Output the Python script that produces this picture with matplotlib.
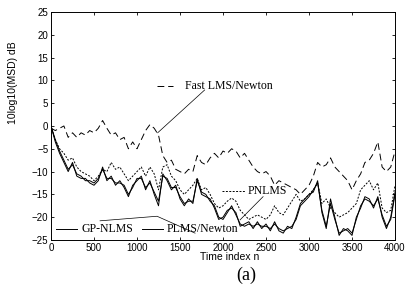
import numpy as np
import matplotlib
matplotlib.use('Agg')
import matplotlib.pyplot as plt

# time index (every 50 samples)
n = np.arange(0, 4001, 50)

# 10log10(MSD) in dB
fast_lms = [-0.5, -1, -0.5, 0, -2.5, -1.5, -2.5, -1.5, -2, -1,
            -1.5, -0.5, 1.2, -0.5, -2, -1.5, -3, -2.5, -5, -3.5,
            -5, -3, -1, 0.3, -0.5, -2, -6.5, -8, -7.5, -9.5,
            -10, -10.5, -9.5, -10, -6.5, -8, -8.5, -7, -6, -7,
            -5.5, -6, -5, -5.5, -7, -6, -7.5, -9, -10, -10.5,
            -10, -11, -13, -12, -12.5, -13, -13.5, -14, -15, -14,
            -13, -11, -8, -9, -8.5, -7, -9, -10, -11, -12,
            -14, -12, -10.5, -8, -7.5, -6, -3.5, -9, -10, -9,
            -5.5]
pnlms = [0, -3, -5, -6, -7.5, -7, -9, -10, -10.5, -11,
         -12, -11, -9.5, -10, -8, -9.5, -9, -10.5, -12, -11,
         -10, -9, -11, -9, -10.5, -14, -9, -8.5, -11, -12,
         -14, -15, -14, -13, -11.5, -14, -13.5, -15, -17, -18,
         -17.5, -16.5, -15.8, -16.5, -18.5, -19.5, -20.5, -20, -19.5, -20,
         -20.5, -19.5, -17.5, -19, -19.5, -18, -16.5, -15, -16.5, -16,
         -15, -14, -12.5, -17, -16, -18, -19, -20, -19.5, -19,
         -18, -17, -14, -13, -12, -14, -12.5, -18, -19, -18.5,
         -13]
gp_nlms = [0, -3.5, -6, -8, -10, -8, -11, -11.5, -11.5, -12.5,
           -13, -12, -9, -12, -11, -13, -12, -13.5, -15.5, -13,
           -12, -11, -14, -12, -15, -17.5, -10.5, -12, -14, -13,
           -16, -17.5, -16, -17, -11.5, -15, -15.5, -16, -18, -20.5,
           -20, -18.5, -18, -19, -22, -21.5, -21, -22.5, -21, -22.5,
           -21.5, -23, -21, -23, -23.5, -22, -22.5, -20, -17, -16,
           -15, -14.5, -12, -19, -22.5, -16, -20, -24, -22.5, -23,
           -24, -20, -18, -15.5, -16, -18, -15.5, -20, -22.5, -20,
           -14.5]
plms_newton = [0, -3, -5.5, -7.5, -9.5, -8.5, -10.5, -11, -12, -12,
               -12.5, -11.5, -9.5, -11.5, -11.5, -12.5, -12.5, -13, -15, -13.5,
               -11.5, -11.5, -13.5, -12.5, -14.5, -16.5, -11, -11.5, -13.5, -13.5,
               -15.5, -17, -16.5, -16.5, -12, -14.5, -15, -16.5, -17.5, -20,
               -20.5, -19, -17.5, -19.5, -21.5, -22, -21.5, -22, -21.5, -22,
               -22, -22.5, -21.5, -22.5, -23, -22.5, -22, -20.5, -17.5, -16.5,
               -15.5, -14, -12.5, -18.5, -22, -17, -20.5, -23.5, -23, -22.5,
               -23.5, -20.5, -17.5, -16, -16.5, -17.5, -16, -19.5, -22, -20.5,
               -15]

serif = ['Liberation Serif', 'DejaVu Serif']
sans = ['Liberation Sans', 'DejaVu Sans']

fig = plt.figure(figsize=(4.06, 2.85), dpi=100)
ax = fig.add_axes([0.1256, 0.158, 0.8474, 0.8])

ax.plot(n, fast_lms, color='k', lw=0.7, linestyle=(0, (7, 4)))
ax.plot(n, pnlms, color='k', lw=0.7, linestyle=(0, (2, 1.5)))
ax.plot(n, gp_nlms, color='k', lw=0.7)
ax.plot(n, plms_newton, color='k', lw=0.7)

# in-plot labels with leader lines
ax.plot([1233, 1419], [8.8, 8.8], color='k', lw=0.7, linestyle=(0, (7, 4)))
ax.text(1560, 8.8, 'Fast LMS/Newton', family=serif, fontsize=8.5, va='center')
ax.plot([1787, 1240], [7.9, -1.5], color='k', lw=0.5)

ax.plot([1985, 2256], [-14.3, -14.3], color='k', lw=0.7, linestyle=(0, (2, 1.5)))
ax.text(2290, -14.3, 'PNLMS', family=serif, fontsize=8.5, va='center')
ax.plot([2466, 2198], [-15.5, -20.6], color='k', lw=0.5)

ax.plot([58, 302], [-22.6, -22.6], color='k', lw=0.7)
ax.text(350, -22.6, 'GP-NLMS', family=serif, fontsize=8.5, va='center')
ax.plot([1058, 1302], [-22.6, -22.6], color='k', lw=0.7)
ax.text(1340, -22.6, 'PLMS/Newton', family=serif, fontsize=8.5, va='center')
ax.plot([570, 1233, 1675], [-20.8, -19.8, -23.5], color='k', lw=0.5)

ax.set_xlim(0, 4000)
ax.set_ylim(-25, 25)
ax.set_xticks(np.arange(0, 4001, 500))
ax.set_yticks(np.arange(-25, 26, 5))
ax.tick_params(direction='in', top=True, right=True, length=2.5, width=0.6,
               labelsize=7, pad=2)
for lab in ax.get_xticklabels() + ax.get_yticklabels():
    lab.set_family(sans)
for s in ax.spines.values():
    s.set_linewidth(0.7)

ax.set_xlabel('Time index n', family=sans, fontsize=7.5, va='center')
ax.set_ylabel('10log10(MSD) dB', family=sans, fontsize=7.5)
ax.xaxis.set_label_coords(0.52, -0.075)
ax.yaxis.set_label_coords(-0.096, 0.69)
fig.text(0.606, 0.005, '(a)', family=serif, fontsize=13, ha='center', va='bottom')

fig.savefig('out.png', dpi=100)
